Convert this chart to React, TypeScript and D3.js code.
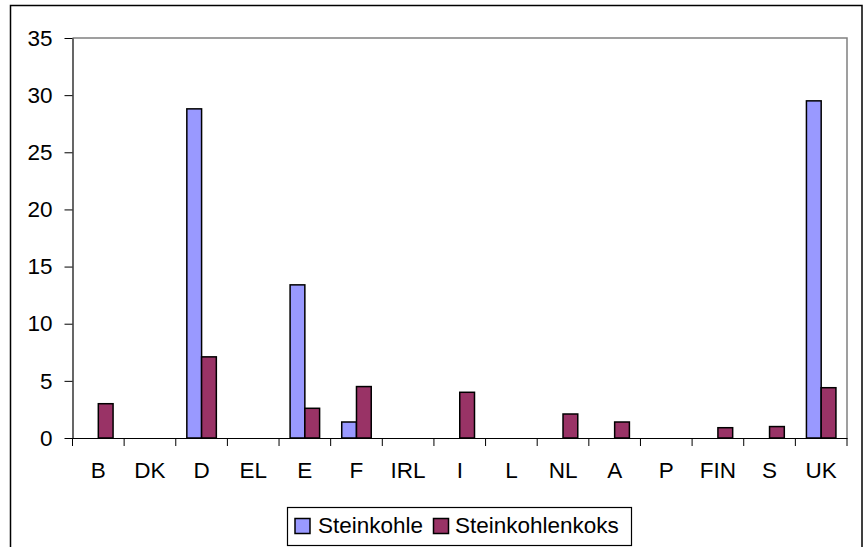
import React, { useRef, useEffect } from "react";
import * as d3 from "d3";

const categories = ["B", "DK", "D", "EL", "E", "F", "IRL", "I", "L", "NL", "A", "P", "FIN", "S", "UK"];
const steinkohle = [0, 0, 28.8, 0, 13.4, 1.4, 0, 0, 0, 0, 0, 0, 0, 0, 29.5];
const steinkohlenkoks = [3.0, 0, 7.1, 0, 2.6, 4.5, 0, 4.0, 0, 2.1, 1.4, 0, 0.9, 1.0, 4.4];
const seriesNames = ["Steinkohle", "Steinkohlenkoks"];
const seriesColors = ["#9999FF", "#993366"];
const yTicks = [0, 5, 10, 15, 20, 25, 30, 35];

export default function App() {
  const ref = useRef<SVGSVGElement>(null);

  useEffect(() => {
    const svg = d3.select(ref.current);
    svg.selectAll("*").remove();

    const left = 72.5, right = 847, top = 38, bottom = 438;
    const font = "'Liberation Sans', Arial, sans-serif";
    const fs = 22.5;

    // outer chart frame
    svg.append("rect")
      .attr("x", 10.5).attr("y", 5.5).attr("width", 851.5).attr("height", 560)
      .attr("fill", "white").attr("stroke", "black").attr("stroke-width", 1.5);

    const x = d3.scaleBand().domain(categories).range([left, right]).paddingInner(0).paddingOuter(0);
    const y = d3.scaleLinear().domain([0, 35]).range([bottom, top]);
    const bw = x.bandwidth() / 3.5;
    const x1 = d3.scaleBand().domain(seriesNames).range([0.75 * bw, 2.75 * bw]);

    // plot area border (gray)
    svg.append("path")
      .attr("d", `M${left},${top}H${right}V${bottom}`)
      .attr("fill", "none").attr("stroke", "#808080").attr("stroke-width", 1.5);

    const data = [steinkohle, steinkohlenkoks];
    data.forEach((vals, si) => {
      svg.append("g").selectAll("rect")
        .data(vals.map((v, i) => ({ c: categories[i], v })).filter((d) => d.v > 0))
        .enter().append("rect")
        .attr("x", (d) => (x(d.c) as number) + (x1(seriesNames[si]) as number))
        .attr("y", (d) => y(d.v))
        .attr("width", x1.bandwidth())
        .attr("height", (d) => bottom - y(d.v))
        .attr("fill", seriesColors[si])
        .attr("stroke", "black").attr("stroke-width", 1.5);
    });

    // y axis
    const ya = svg.append("g")
      .attr("transform", `translate(${left},0)`)
      .call(d3.axisLeft(y).tickValues(yTicks).tickSize(8).tickPadding(12).tickSizeOuter(0));
    ya.select(".domain").attr("stroke", "black").attr("stroke-width", 1.2);
    ya.selectAll(".tick line").attr("stroke", "black");
    ya.selectAll("text").attr("font-family", font).attr("font-size", fs).attr("fill", "black");

    // x axis
    const xa = svg.append("g")
      .attr("transform", `translate(0,${bottom})`)
      .call(d3.axisBottom(x).tickSize(0).tickPadding(24));
    xa.select(".domain").attr("stroke", "black").attr("stroke-width", 1.2);
    xa.selectAll("text").attr("font-family", font).attr("font-size", fs).attr("fill", "black");
    svg.append("g").selectAll("line")
      .data([...categories.map((c) => x(c) as number), right])
      .enter().append("line")
      .attr("x1", (d) => d).attr("x2", (d) => d)
      .attr("y1", bottom).attr("y2", bottom + 8)
      .attr("stroke", "black");

    // legend
    const lg = svg.append("g");
    lg.append("rect")
      .attr("x", 287.5).attr("y", 507.5).attr("width", 344).attr("height", 38)
      .attr("fill", "white").attr("stroke", "black").attr("stroke-width", 1.2);
    const items = [{ x: 295, tx: 318 }, { x: 433.5, tx: 455 }];
    items.forEach((it, i) => {
      lg.append("rect")
        .attr("x", it.x).attr("y", 518.5).attr("width", 15).attr("height", 15)
        .attr("fill", seriesColors[i]).attr("stroke", "black").attr("stroke-width", 1.5);
      lg.append("text")
        .attr("x", it.tx).attr("y", 533)
        .attr("font-family", font).attr("font-size", fs)
        .text(seriesNames[i]);
    });
  }, []);

  return (
    <svg ref={ref} width={864} height={547}
      style={{ position: "absolute", left: 0, top: 0, background: "white" }} />
  );
}
